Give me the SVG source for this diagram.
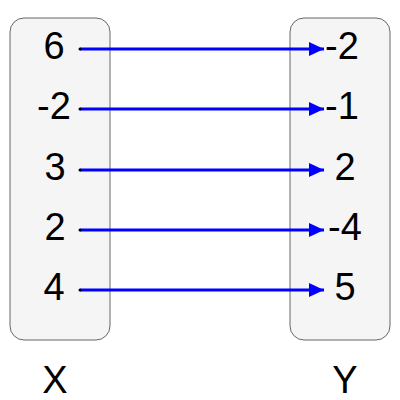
<svg xmlns="http://www.w3.org/2000/svg" width="400" height="400" viewBox="0 0 400 400">
<style>
.box{fill:#f5f5f5;stroke:#666;stroke-width:1}
.t{font-family:"Liberation Sans",Arial,sans-serif;font-size:38px;fill:#000;text-anchor:middle}
.c{stroke:#0000ff;stroke-width:3;fill:none;marker-end:url(#ah)}
</style>
<defs>
<marker id="ah" markerUnits="userSpaceOnUse" markerWidth="16" markerHeight="16" refX="15" refY="8" orient="auto" viewBox="0 0 16 16">
<path d="M0,1 L15,8 L0,15 Z" fill="#0000ff"/>
</marker>
</defs>
<g id="X"><rect class="box" x="10" y="18" width="100" height="322" rx="14"/></g>
<g id="Y"><rect class="box" x="290" y="18" width="100" height="322" rx="14"/></g>
<g id="connectors">
<line class="c" x1="80" y1="49" x2="324" y2="49"/>
<line class="c" x1="80" y1="109" x2="324" y2="109"/>
<line class="c" x1="80" y1="170" x2="324" y2="170"/>
<line class="c" x1="80" y1="230" x2="324" y2="230"/>
<line class="c" x1="80" y1="290" x2="324" y2="290"/>
<circle cx="80" cy="49" r="1.5"/>
<circle cx="80" cy="109" r="1.5"/>
<circle cx="80" cy="170" r="1.5"/>
<circle cx="80" cy="230" r="1.5"/>
<circle cx="80" cy="290" r="1.5"/>
</g>
<g id="labels">
<text class="t" x="54" y="59">6</text>
<text class="t" x="54" y="119">-2</text>
<text class="t" x="55" y="180">3</text>
<text class="t" x="55" y="240">2</text>
<text class="t" x="54" y="300">4</text>
<text class="t" x="342" y="59">-2</text>
<text class="t" x="342" y="119">-1</text>
<text class="t" x="345" y="180">2</text>
<text class="t" x="345" y="240">-4</text>
<text class="t" x="345" y="300">5</text>
<text class="t" x="55" y="393">X</text>
<text class="t" x="345" y="393">Y</text>
</g>
</svg>
